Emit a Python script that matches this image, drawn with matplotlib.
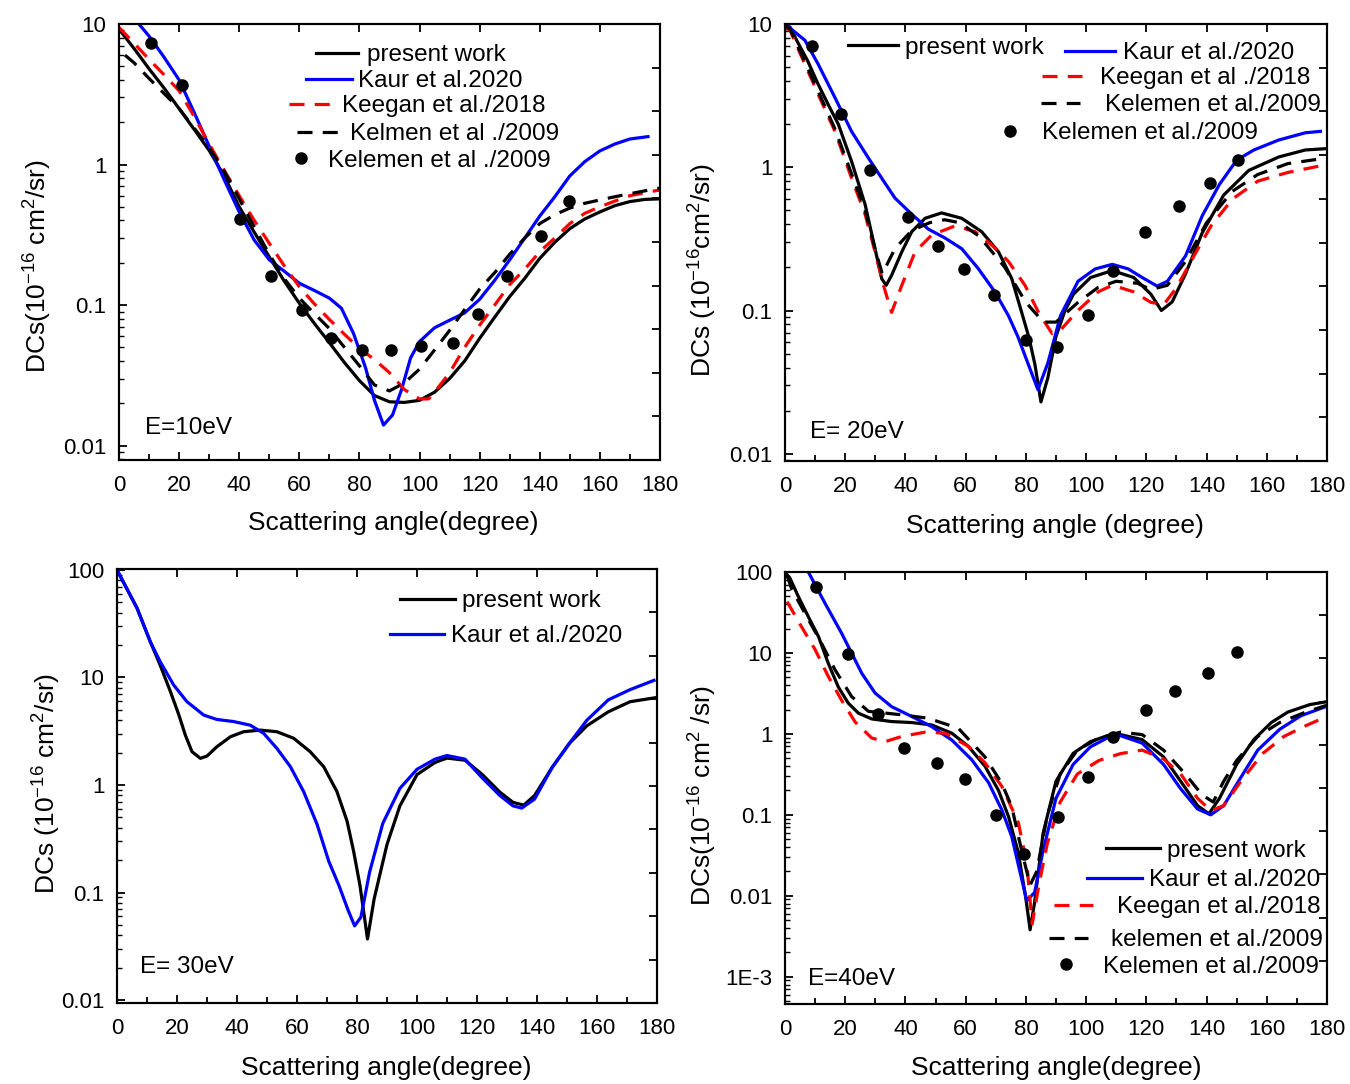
import matplotlib
matplotlib.use('Agg')
import matplotlib.pyplot as plt
from matplotlib.lines import Line2D
from matplotlib.ticker import (LogLocator, FixedLocator, FixedFormatter,
                               MultipleLocator, NullFormatter)

plt.rcParams['font.family'] = ['Liberation Sans', 'DejaVu Sans']
plt.rcParams['mathtext.fontset'] = 'custom'
plt.rcParams['mathtext.rm'] = 'Liberation Sans'
plt.rcParams['mathtext.it'] = 'Liberation Sans:italic'
plt.rcParams['mathtext.default'] = 'regular'

# ---------------- DATA ----------------
# Panel 1: E = 10 eV
p1_present_x = [0, 5, 10, 15, 20, 25, 30, 35, 40, 45, 50, 55, 60, 65, 70, 75, 80, 85, 90, 95,
                100, 105, 110, 115, 120, 125, 130, 135, 140, 145, 150, 155, 160, 165, 170, 175, 180]
p1_present_y = [9.2, 6.7, 4.8, 3.5, 2.5, 1.78, 1.26, 0.83, 0.50, 0.33, 0.22, 0.148, 0.103, 0.074,
                0.054, 0.039, 0.029, 0.0227, 0.0205, 0.0203, 0.021, 0.024, 0.030, 0.040, 0.058,
                0.082, 0.115, 0.155, 0.215, 0.28, 0.35, 0.41, 0.46, 0.51, 0.545, 0.565, 0.57]
p1_kaur_x = [5, 10, 15, 20, 25, 30, 35, 40, 45, 50, 55, 60, 65, 70, 74, 78, 82, 85, 88, 91, 94,
             97, 100, 105, 110, 115, 120, 125, 130, 135, 140, 145, 150, 155, 160, 165, 170, 176]
p1_kaur_y = [11.0, 8.2, 5.8, 4.0, 2.35, 1.35, 0.78, 0.46, 0.29, 0.21, 0.174, 0.143, 0.127, 0.112,
             0.095, 0.063, 0.036, 0.021, 0.014, 0.0165, 0.025, 0.042, 0.055, 0.069, 0.078, 0.088,
             0.11, 0.15, 0.21, 0.30, 0.43, 0.59, 0.83, 1.05, 1.25, 1.40, 1.52, 1.58]
p1_keegan_x = [0, 5, 10, 15, 20, 25, 30, 35, 40, 45, 50, 55, 60, 65, 70, 75, 80, 85, 90, 95, 100,
               103, 105, 110, 115, 120, 125, 130, 135, 140, 145, 150, 155, 160, 165, 170, 175, 180]
p1_keegan_y = [9.45, 7.3, 5.6, 4.35, 3.35, 2.2, 1.4, 0.91, 0.60, 0.40, 0.275, 0.19, 0.135, 0.102,
               0.079, 0.062, 0.049, 0.041, 0.033, 0.025, 0.0215, 0.0215, 0.024, 0.033, 0.050,
               0.072, 0.10, 0.14, 0.18, 0.24, 0.30, 0.38, 0.45, 0.50, 0.55, 0.60, 0.63, 0.66]
p1_kelmen_x = [2, 5, 10, 15, 20, 25, 30, 35, 40, 45, 50, 55, 60, 65, 70, 75, 80, 85, 90, 95, 100,
               105, 110, 115, 120, 125, 130, 135, 140, 145, 150, 155, 160, 165, 170, 175, 180]
p1_kelmen_y = [6.0, 5.3, 4.1, 3.2, 2.5, 1.82, 1.32, 0.90, 0.57, 0.36, 0.23, 0.154, 0.112, 0.087,
               0.068, 0.050, 0.037, 0.027, 0.0245, 0.028, 0.035, 0.048, 0.066, 0.093, 0.13, 0.17,
               0.23, 0.30, 0.38, 0.44, 0.49, 0.53, 0.56, 0.59, 0.62, 0.65, 0.68]
p1_exp_x = [10.5, 20.8, 40.3, 50.6, 61, 70.5, 80.8, 90.5, 100.5, 111, 119.5, 129, 140.4, 149.7]
p1_exp_y = [7.3, 3.7, 0.41, 0.16, 0.093, 0.058, 0.048, 0.048, 0.051, 0.054, 0.087, 0.16, 0.31, 0.55]

# Panel 2: E = 20 eV
p2_present_x = [0, 1.7, 4, 7.4, 11, 14.5, 17.7, 22.1, 26.6, 29.9, 32.1, 33.6, 35.4, 38.8, 42.1,
                46.5, 52, 58.7, 65.3, 70.9, 75.3, 78.6, 81, 83, 85, 87.3, 90, 93, 95.8, 101.5,
                108.7, 115.8, 121.5, 125, 128.6, 133, 138.6, 145.7, 154, 164, 172.8, 180]
p2_present_y = [10, 9.5, 7.6, 5.6, 3.8, 2.7, 2.0, 1.1, 0.55, 0.27, 0.167, 0.15, 0.176, 0.257,
                0.355, 0.44, 0.48, 0.44, 0.355, 0.257, 0.167, 0.097, 0.065, 0.042, 0.023, 0.034,
                0.066, 0.10, 0.13, 0.17, 0.19, 0.17, 0.13, 0.10, 0.115, 0.18, 0.35, 0.64, 0.95,
                1.18, 1.32, 1.35]
p2_kaur_x = [0, 6.6, 11, 16.6, 22.1, 27.7, 32.1, 36.5, 42.1, 47.6, 53.2, 58.7, 64.2, 69.8, 74.2,
             77.3, 81.6, 84, 87.3, 91.5, 97.3, 103, 108.7, 114, 118.6, 123.6, 127, 133, 138.6,
             144.3, 150, 155.7, 164, 172.8, 177.8]
p2_kaur_y = [10, 7.7, 5.25, 3.06, 1.78, 1.16, 0.84, 0.61, 0.47, 0.37, 0.32, 0.27, 0.196, 0.134,
             0.092, 0.066, 0.038, 0.028, 0.043, 0.092, 0.16, 0.195, 0.21, 0.195, 0.17, 0.148, 0.16,
             0.24, 0.46, 0.76, 1.12, 1.32, 1.55, 1.74, 1.78]
p2_keegan_x = [0, 1.7, 6, 11, 16.6, 22.1, 26.6, 29.9, 32.7, 35.4, 38.8, 43.2, 48.7, 56.5, 63.1,
               68.7, 74.2, 79.7, 84.2, 88.7, 91.5, 97.3, 104, 108.7, 115.8, 121.5, 125.8, 130,
               135.8, 141.5, 148.6, 157, 167, 178.5]
p2_keegan_y = [9.4, 9.0, 5.6, 3.24, 1.78, 0.84, 0.47, 0.257, 0.15, 0.097, 0.15, 0.257, 0.336,
               0.39, 0.355, 0.286, 0.22, 0.15, 0.097, 0.069, 0.073, 0.10, 0.135, 0.15, 0.135,
               0.114, 0.11, 0.144, 0.24, 0.39, 0.60, 0.80, 0.92, 1.03]
p2_kelmen_x = [0, 1.7, 6, 11, 16.6, 22.1, 26.6, 29.9, 32.3, 36.5, 42, 48, 53, 58, 64.5, 73, 80,
               85.8, 90, 97.3, 104, 110, 117, 121.5, 127, 133, 140, 148.6, 157, 167, 178.5]
p2_kelmen_y = [9.7, 9.2, 5.8, 3.4, 1.85, 0.9, 0.5, 0.27, 0.18, 0.27, 0.36, 0.41, 0.43, 0.41, 0.33,
               0.20, 0.114, 0.083, 0.083, 0.114, 0.145, 0.16, 0.155, 0.14, 0.15, 0.22, 0.41, 0.68,
               0.89, 1.06, 1.15]
p2_exp_x = [8.9, 18.6, 28.2, 40.8, 50.7, 59.6, 69.5, 80, 90.4, 100.5, 109, 119.4, 130.8, 141.2,
            150.4]
p2_exp_y = [7.0, 2.37, 0.95, 0.45, 0.28, 0.196, 0.129, 0.062, 0.056, 0.093, 0.19, 0.355, 0.54,
            0.78, 1.13]

# Panel 3: E = 30 eV
p3_present_x = [0, 6.7, 11.1, 14.4, 17.8, 20.6, 22.8, 25, 27.8, 30, 33.3, 37.8, 42.2, 47.8, 53.3,
                58.9, 64.4, 68.9, 73.3, 76.7, 78.9, 81, 83.5, 85.7, 90, 94.3, 100, 106, 110, 116,
                121.8, 127.6, 132, 135.6, 139.2, 145, 150.8, 156.6, 163.8, 171, 179.7]
p3_present_y = [100, 44, 21.5, 13, 7.4, 4.5, 2.9, 2.04, 1.77, 1.86, 2.27, 2.81, 3.13, 3.24, 3.13,
                2.72, 2.04, 1.48, 0.87, 0.46, 0.24, 0.116, 0.037, 0.087, 0.28, 0.64, 1.25, 1.62,
                1.78, 1.70, 1.25, 0.86, 0.69, 0.65, 0.80, 1.45, 2.44, 3.55, 4.8, 5.95, 6.5]
p3_kaur_x = [0, 6.7, 11.1, 14.4, 18.9, 23.3, 28.9, 33.3, 38.9, 44.4, 48.9, 53.3, 57.8, 62.2, 66.7,
             70.6, 74, 77, 79.2, 81.3, 84.2, 88.6, 94.3, 100, 106, 110, 116, 121.8, 127.6, 132,
             134.9, 139.2, 145, 150.8, 156.6, 163.8, 171, 179]
p3_kaur_y = [100, 44, 21.5, 14, 8.5, 5.96, 4.47, 4.07, 3.89, 3.6, 3.02, 2.19, 1.48, 0.87, 0.43,
             0.195, 0.116, 0.069, 0.049, 0.059, 0.155, 0.44, 0.93, 1.4, 1.74, 1.88, 1.74, 1.16,
             0.80, 0.64, 0.61, 0.74, 1.45, 2.44, 4.0, 6.2, 7.7, 9.4]

# Panel 4: E = 40 eV
p4_present_x = [0, 1.7, 4.4, 7.75, 11.1, 14.4, 17.7, 21, 24.4, 28.8, 35.4, 42.1, 48.7, 55.4, 60.9,
                66.4, 70.9, 74.2, 77.5, 80, 81.4, 82.9, 85.7, 90, 95.7, 101.4, 107, 111.4, 118.6,
                125.7, 131.4, 137, 140.8, 144.3, 150, 155.7, 161.5, 167, 174.3, 180]
p4_present_y = [100, 83, 50, 28, 16, 7.4, 3.8, 2.4, 1.8, 1.53, 1.42, 1.38, 1.29, 1.02, 0.70, 0.40,
                0.20, 0.096, 0.034, 0.0092, 0.0038, 0.0083, 0.059, 0.26, 0.575, 0.80, 0.95, 0.98,
                0.85, 0.52, 0.26, 0.13, 0.103, 0.16, 0.42, 0.85, 1.38, 1.86, 2.3, 2.5]
p4_kaur_x = [6, 7.75, 13.3, 18.8, 22.1, 25.5, 29.9, 35.4, 42.1, 48.7, 55.4, 62, 67.6, 72, 75.3,
             78, 80.3, 82.9, 85.7, 90, 95.7, 101.4, 107, 111.4, 118.6, 125.7, 131.4, 137, 141.4,
             145.7, 151.4, 157, 164.3, 171.4, 179.3]
p4_kaur_y = [130, 100, 41, 17.5, 10, 5.6, 3.2, 2.17, 1.64, 1.23, 0.84, 0.48, 0.25, 0.115, 0.054,
             0.02, 0.0087, 0.011, 0.036, 0.16, 0.42, 0.69, 0.89, 0.95, 0.77, 0.42, 0.21, 0.118,
             0.10, 0.13, 0.29, 0.63, 1.14, 1.68, 2.15]
p4_keegan_x = [0.7, 5.5, 10, 14.4, 18.8, 23.3, 28.8, 33.2, 38.8, 46.5, 53.2, 60.9, 66.4, 72, 77.5,
               80.3, 82.1, 84.3, 87.1, 91.4, 97.1, 104.3, 111.4, 118.6, 125.7, 131.4, 137, 141.4,
               145.7, 151.4, 158.6, 165.7, 172.9, 179.3]
p4_keegan_y = [43, 21, 11, 5.1, 2.6, 1.4, 0.89, 0.80, 0.93, 1.05, 1.02, 0.70, 0.44, 0.225, 0.08,
               0.025, 0.0045, 0.0135, 0.044, 0.144, 0.32, 0.47, 0.57, 0.63, 0.49, 0.32, 0.16, 0.113,
               0.13, 0.26, 0.57, 0.93, 1.26, 1.6]
p4_kelmen_x = [0.7, 2.2, 6.6, 12.2, 16.6, 22.1, 27.7, 38.8, 47.6, 57.6, 66.4, 72, 75.3, 78.6, 81.4,
               83.6, 87.1, 91.4, 97.1, 104.3, 111.4, 118.6, 125.7, 132.9, 138.6, 142.2, 145.7, 150,
               157, 164.3, 172.9, 180]
p4_kelmen_y = [90, 62, 31, 13, 6.2, 2.9, 1.9, 1.72, 1.56, 1.17, 0.52, 0.245, 0.126, 0.036, 0.0135,
               0.02, 0.098, 0.32, 0.63, 0.89, 1.05, 0.98, 0.63, 0.32, 0.175, 0.144, 0.26, 0.47,
               0.93, 1.38, 1.86, 2.26]
p4_exp_x = [10.2, 21, 30.8, 39.6, 50.4, 59.8, 70, 79.5, 90.6, 100.7, 109, 120, 129.6, 140.6, 150]
p4_exp_y = [65, 9.8, 1.77, 0.67, 0.44, 0.28, 0.10, 0.033, 0.093, 0.29, 0.91, 2.0, 3.36, 5.6, 10.2]

# Tick labels
x_ticks = [0, 20, 40, 60, 80, 100, 120, 140, 160, 180]
y_ticks_a = [0.01, 0.1, 1, 10]
y_ticklabels_a = ['0.01', '0.1', '1', '10']
y_ticks_c = [0.01, 0.1, 1, 10, 100]
y_ticklabels_c = ['0.01', '0.1', '1', '10', '100']
y_ticks_d = [0.001, 0.01, 0.1, 1, 10, 100]
y_ticklabels_d = ['1E-3', '0.01', '0.1', '1', '10', '100']

# Labels
energy_labels = ['E=10eV', 'E= 20eV', 'E= 30eV', 'E=40eV']
xlabels = ['Scattering angle(degree)', 'Scattering angle (degree)',
           'Scattering angle(degree)', 'Scattering angle(degree)']
ylabels = ['DCs(10$^{-16}$ cm$^{2}$/sr)', 'DCs (10$^{-16}$cm$^{2}$/sr)',
           'DCs (10$^{-16}$ cm$^{2}$/sr)', 'DCs(10$^{-16}$ cm$^{2}$ /sr)']
legend_p1 = ['present work', 'Kaur et al.2020', 'Keegan et al./2018', 'Kelmen et al ./2009',
             'Kelemen et al ./2009']
legend_p2 = ['present work', 'Kaur et al./2020', 'Keegan et al ./2018', 'Kelemen et al./2009',
             'Kelemen et al./2009']
legend_p3 = ['present work', 'Kaur et al./2020']
legend_p4 = ['present work', 'Kaur et al./2020', 'Keegan et al./2018', 'kelemen et al./2009',
             'Kelemen et al./2009']

# ---------------- STYLE ----------------
W, H = 1350, 1084
fig = plt.figure(figsize=(W / 100, H / 100), dpi=100)

LW = 2.3
DASH = (4.7, 3.2)
ST_PRESENT = dict(color='black', lw=LW, ls='-')
ST_KAUR = dict(color='#0000FF', lw=LW, ls='-')
ST_KEEGAN = dict(color='#FF0000', lw=LW, ls=(0, DASH))
ST_KELMEN = dict(color='black', lw=LW, ls=(0, DASH))
ST_EXP = dict(color='black', ls='none', marker='o', ms=8)

TICK_FS = 16
LAB_FS = 19
LEG_FS = 17.5


def make_axes(l, t, r, b):
    return fig.add_axes([l / W, 1 - b / H, (r - l) / W, (b - t) / H])


def style_axes(ax, ylim, yticks, yticklabels):
    ax.set_xlim(0, 180)
    ax.set_yscale('log')
    ax.set_ylim(*ylim)
    ax.xaxis.set_major_locator(FixedLocator(x_ticks))
    ax.xaxis.set_minor_locator(MultipleLocator(10))
    ax.tick_params(axis='x', which='major', direction='in', length=6, width=1.3,
                   top=True, labelsize=TICK_FS, pad=11)
    ax.tick_params(axis='x', which='minor', direction='in', length=4, width=1.3, top=False)
    ax.yaxis.set_major_locator(FixedLocator(yticks))
    ax.yaxis.set_major_formatter(FixedFormatter(yticklabels))
    ax.yaxis.set_minor_locator(LogLocator(base=10, subs=[2, 3, 4, 5, 6, 7, 8, 9], numticks=100))
    ax.yaxis.set_minor_formatter(NullFormatter())
    ax.tick_params(axis='y', which='major', direction='in', length=6, width=1.3,
                   right=False, labelsize=TICK_FS, pad=9)
    ax.tick_params(axis='y', which='minor', direction='in', length=3.5, width=1.0, right=False)
    for s in ax.spines.values():
        s.set_linewidth(1.5)
    tw = ax.twinx()
    tw.set_ylim(0, 10)
    tw.yaxis.set_major_locator(MultipleLocator(1))
    tw.tick_params(axis='y', direction='in', length=6, width=1.3, labelright=False)
    for s in tw.spines.values():
        s.set_linewidth(1.5)


def add_entry(style, label, x0, x1, y, xt, marker=False):
    fs_px = LEG_FS * 100 / 72
    if marker:
        h = Line2D([], [], **ST_EXP)
    else:
        h = Line2D([], [], **style)
    fig.legend([h], [label], loc='center left', bbox_to_anchor=(x0 / W, 1 - y / H),
               bbox_transform=fig.transFigure, frameon=False, borderpad=0, borderaxespad=0,
               handlelength=(x1 - x0) / fs_px, handletextpad=(xt - x1) / fs_px,
               fontsize=LEG_FS, numpoints=1)


def fig_text(px, py, s, **kw):
    fig.text(px / W, 1 - py / H, s, **kw)


# ---------------- PANEL 1 ----------------
ax1 = make_axes(119, 24, 660, 460)
ax1.plot(p1_present_x, p1_present_y, **ST_PRESENT)
ax1.plot(p1_kaur_x, p1_kaur_y, **ST_KAUR)
ax1.plot(p1_keegan_x, p1_keegan_y, **ST_KEEGAN)
ax1.plot(p1_kelmen_x, p1_kelmen_y, **ST_KELMEN)
ax1.plot(p1_exp_x, p1_exp_y, **ST_EXP)
style_axes(ax1, (0.0079, 10), y_ticks_a, y_ticklabels_a)
add_entry(ST_PRESENT, legend_p1[0], 316, 358, 55, 367)
add_entry(ST_KAUR, legend_p1[1], 306, 352, 81, 358)
add_entry(ST_KEEGAN, legend_p1[2], 289, 330, 106, 342)
add_entry(ST_KELMEN, legend_p1[3], 297, 338, 134, 350)
add_entry(None, legend_p1[4], 291, 311, 161, 328, marker=True)
fig_text(145, 428, energy_labels[0], fontsize=LEG_FS, va='center', ha='left')
fig_text(393, 523, xlabels[0], fontsize=LAB_FS, va='center', ha='center')
fig_text(38, 266, ylabels[0], fontsize=LAB_FS, va='center', ha='center', rotation=90)

# ---------------- PANEL 2 ----------------
ax2 = make_axes(785, 24, 1327, 461)
ax2.plot(p2_present_x, p2_present_y, **ST_PRESENT)
ax2.plot(p2_kaur_x, p2_kaur_y, **ST_KAUR)
ax2.plot(p2_keegan_x, p2_keegan_y, **ST_KEEGAN)
ax2.plot(p2_kelmen_x, p2_kelmen_y, **ST_KELMEN)
ax2.plot(p2_exp_x, p2_exp_y, **ST_EXP)
style_axes(ax2, (0.0089, 10), y_ticks_a, y_ticklabels_a)
add_entry(ST_PRESENT, legend_p2[0], 848, 898, 48, 905)
add_entry(ST_KAUR, legend_p2[1], 1065, 1115, 53, 1123)
add_entry(ST_KEEGAN, legend_p2[2], 1042, 1082, 78, 1100)
add_entry(ST_KELMEN, legend_p2[3], 1041, 1080, 105, 1105)
add_entry(None, legend_p2[4], 1000, 1020, 133, 1042, marker=True)
fig_text(810, 432, energy_labels[1], fontsize=LEG_FS, va='center', ha='left')
fig_text(1055, 526, xlabels[1], fontsize=LAB_FS, va='center', ha='center')
fig_text(703, 270, ylabels[1], fontsize=LAB_FS, va='center', ha='center', rotation=90)

# ---------------- PANEL 3 ----------------
ax3 = make_axes(117, 569, 657, 1003)
ax3.plot(p3_present_x, p3_present_y, **ST_PRESENT)
ax3.plot(p3_kaur_x, p3_kaur_y, **ST_KAUR)
style_axes(ax3, (0.0094, 102), y_ticks_c, y_ticklabels_c)
add_entry(ST_PRESENT, legend_p3[0], 400, 455, 601, 462)
add_entry(ST_KAUR, legend_p3[1], 390, 444, 636, 451)
fig_text(140, 967, energy_labels[2], fontsize=LEG_FS, va='center', ha='left')
fig_text(386, 1068, xlabels[2], fontsize=LAB_FS, va='center', ha='center')
fig_text(47, 783, ylabels[2], fontsize=LAB_FS, va='center', ha='center', rotation=90)

# ---------------- PANEL 4 ----------------
ax4 = make_axes(785, 572, 1327, 1004)
ax4.plot(p4_present_x, p4_present_y, **ST_PRESENT)
ax4.plot(p4_kaur_x, p4_kaur_y, **ST_KAUR)
ax4.plot(p4_keegan_x, p4_keegan_y, **ST_KEEGAN)
ax4.plot(p4_kelmen_x, p4_kelmen_y, **ST_KELMEN)
ax4.plot(p4_exp_x, p4_exp_y, **ST_EXP)
style_axes(ax4, (4.6e-4, 100), y_ticks_d, y_ticklabels_d)
add_entry(ST_PRESENT, legend_p4[0], 1106, 1160, 851, 1167)
add_entry(ST_KAUR, legend_p4[1], 1087, 1142, 880, 1149)
add_entry(ST_KEEGAN, legend_p4[2], 1054, 1093, 907, 1117)
add_entry(ST_KELMEN, legend_p4[3], 1049, 1088, 940, 1111)
add_entry(None, legend_p4[4], 1056, 1076, 967, 1103, marker=True)
fig_text(808, 979, energy_labels[3], fontsize=LEG_FS, va='center', ha='left')
fig_text(1056, 1068, xlabels[3], fontsize=LAB_FS, va='center', ha='center')
fig_text(703, 795, ylabels[3], fontsize=LAB_FS, va='center', ha='center', rotation=90)

fig.savefig('out.png', dpi=100)
